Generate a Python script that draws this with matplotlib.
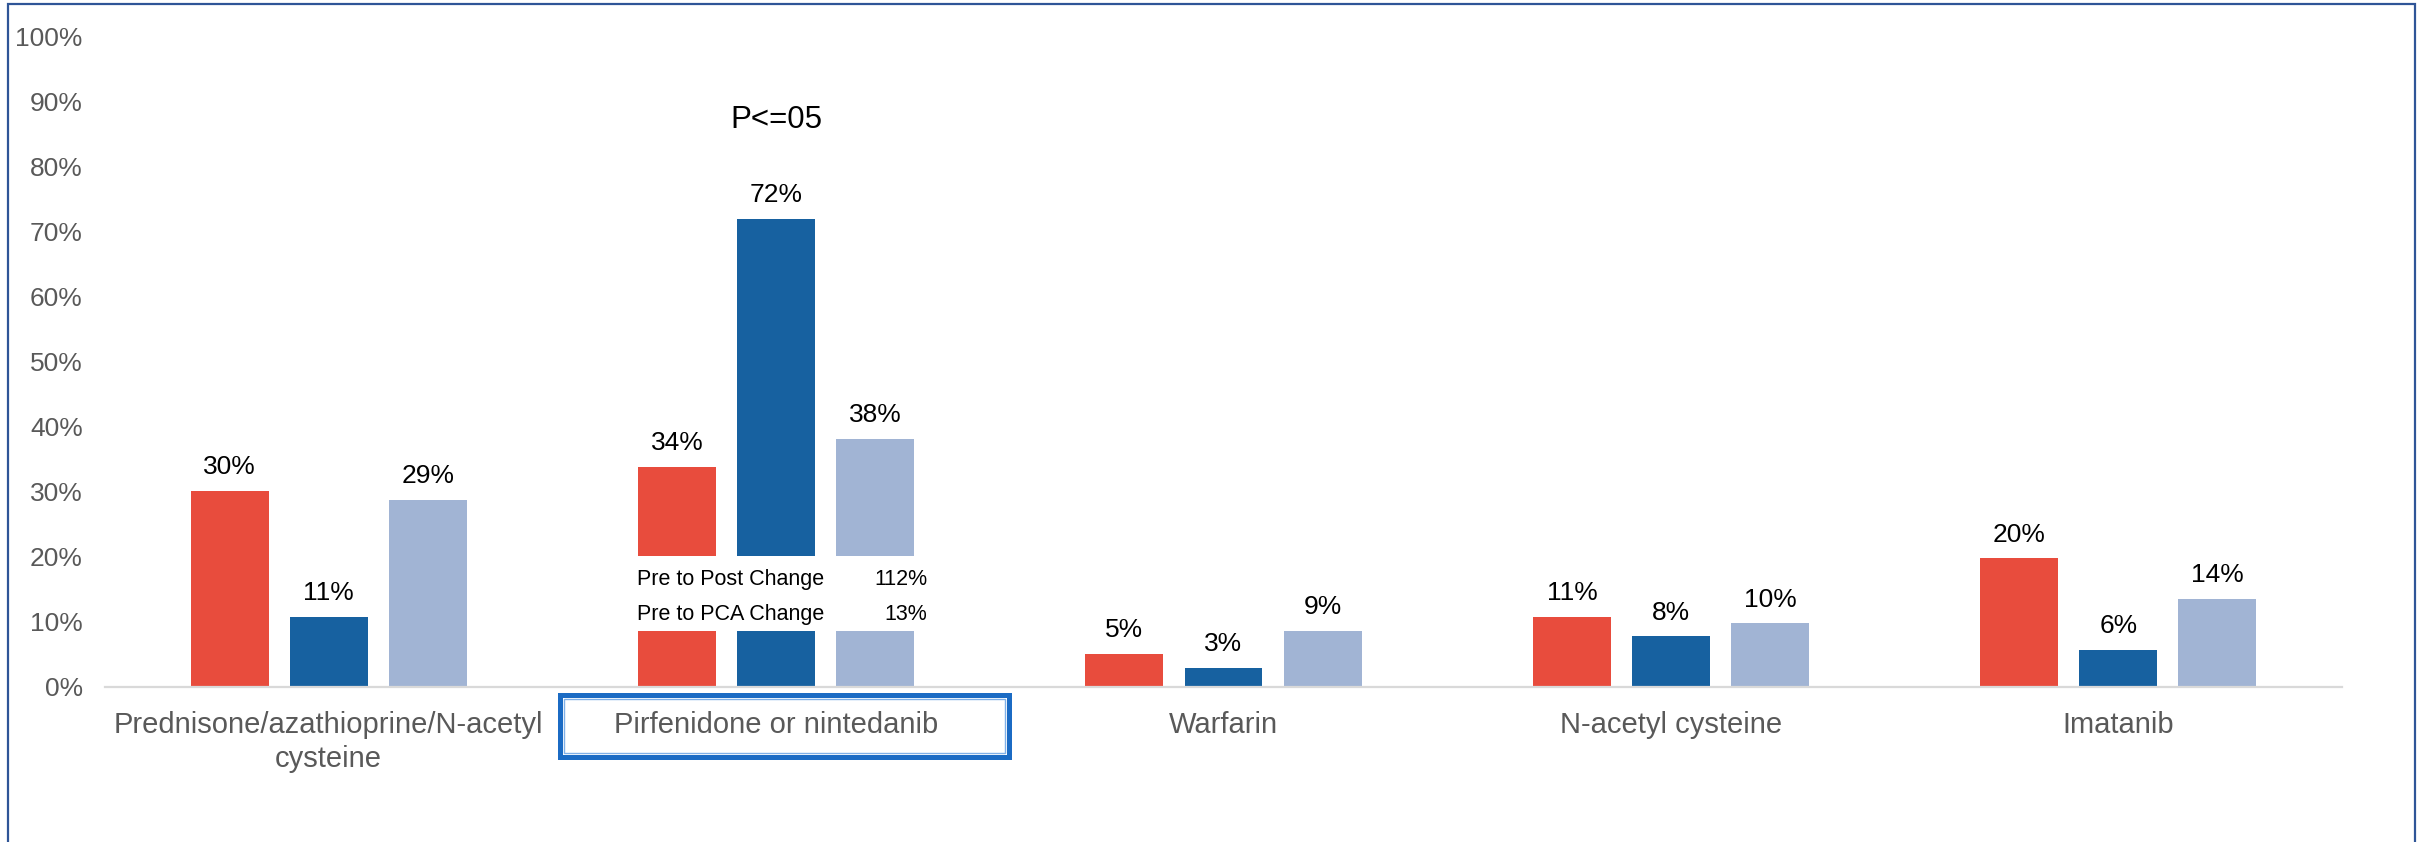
import matplotlib
matplotlib.use("Agg")
import matplotlib.pyplot as plt
from matplotlib.patches import Rectangle
from matplotlib.transforms import blended_transform_factory
import numpy as np

plt.rcParams['font.family'] = ['Liberation Sans', 'DejaVu Sans']

# Treatment categories and the three series (percent of patients)
categories = ["Prednisone/azathioprine/N-acetyl\ncysteine",
              "Pirfenidone or nintedanib",
              "Warfarin",
              "N-acetyl cysteine",
              "Imatanib"]
series_a = [30.2, 33.8, 5.1, 10.8, 19.8]
series_b = [10.8, 72.0, 2.9, 7.8, 5.7]
series_c = [28.8, 38.1, 8.6, 9.8, 13.6]
y_ticks = [0, 10, 20, 30, 40, 50, 60, 70, 80, 90, 100]
change_rows = [("Pre to Post Change", "112%"), ("Pre to PCA Change", "13%")]
p_note = "P<=05"

colors = ["#e84c3d", "#1761a0", "#a1b4d4"]
W, H = 2418, 842
fig = plt.figure(figsize=(W / 100, H / 100), dpi=100)
fig.patch.set_facecolor("white")

ax = fig.add_axes([105 / W, (H - 687) / H, 2237 / W, 650.5 / H])
x = np.arange(len(categories))
step, width = 0.2213, 0.1743

for j, (vals, col) in enumerate(zip([series_a, series_b, series_c], colors)):
    bars = ax.bar(x + (j - 1) * step, vals, width=width, color=col, zorder=2)
    for b, v in zip(bars, vals):
        ax.annotate(f"{v:.0f}%", (b.get_x() + b.get_width() / 2, v),
                    xytext=(0, 12), textcoords="offset points",
                    ha="center", va="baseline", fontsize=19, color="black")

ax.set_xlim(-0.5, len(categories) - 0.5)
ax.set_ylim(0, 100)
ax.set_yticks(y_ticks)
ax.set_yticklabels([f"{t}%" for t in y_ticks], fontsize=19, color="#595959")
ax.tick_params(axis="y", length=0, pad=16)
ax.set_xticks([])
for s in ["top", "right", "left"]:
    ax.spines[s].set_visible(False)
ax.spines["bottom"].set_color("#d9d9d9")
ax.spines["bottom"].set_linewidth(1.6)
ax.spines["bottom"].set_zorder(3)

# Category labels under the baseline
trans = blended_transform_factory(ax.transData, ax.transAxes)
line_gap = 34 / 650.5
base_y = (687 - 733) / 650.5
for i, cat in enumerate(categories):
    for k, line in enumerate(cat.split("\n")):
        ax.text(i, base_y - k * line_gap, line, transform=trans, ha="center",
                va="baseline", fontsize=21, color="#595959", clip_on=False)

# Highlight box around the second category label
fig.patches.append(Rectangle((560 / W, 1 - 757 / H), 449 / W, 62 / H,
                             transform=fig.transFigure, fill=False,
                             edgecolor="#1b6bc4", linewidth=3.6, zorder=5))
fig.patches.append(Rectangle((564 / W, 1 - 753 / H), 441 / W, 54 / H,
                             transform=fig.transFigure, fill=False,
                             edgecolor="#7fb0e8", linewidth=1.0, zorder=6))

# Change summary panel across the second group's bars
ax.add_patch(Rectangle((1 - 0.345, 8.6), 0.69, 11.6, facecolor="white",
                       edgecolor="none", zorder=4))
for (label, val), yv in zip(change_rows, [16.6, 11.1]):
    ax.text(1 - 0.311, yv, label, ha="left", va="center", fontsize=15.5,
            color="black", zorder=5)
    ax.text(1 + 0.3375, yv, val, ha="right", va="center", fontsize=15.5,
            color="black", zorder=5)

ax.text(1, 87.2, p_note, ha="center", va="center", fontsize=22.5, color="black")

# Outer frame
fig.patches.append(Rectangle((8 / W, -0.05), 2407 / W, 1.05 - 4 / H,
                             transform=fig.transFigure, fill=False,
                             edgecolor="#2f5597", linewidth=1.6, zorder=10))

fig.savefig("out.png", dpi=100, facecolor="white")
